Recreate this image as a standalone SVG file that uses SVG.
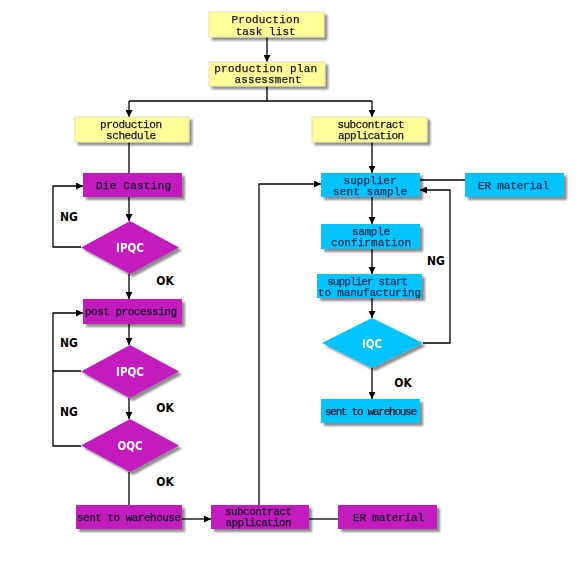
<svg xmlns="http://www.w3.org/2000/svg" width="580" height="570" viewBox="0 0 580 570">
<defs>
<filter id="sh" x="-10%" y="-20%" width="130%" height="160%">
<feGaussianBlur in="SourceAlpha" stdDeviation="1.2"/>
<feOffset dx="3" dy="3" result="b"/>
<feComponentTransfer><feFuncA type="linear" slope="0.45"/></feComponentTransfer>
<feMerge><feMergeNode/><feMergeNode in="SourceGraphic"/></feMerge>
</filter>
<marker id="ar" viewBox="0 0 10 10" refX="10" refY="5" markerWidth="7" markerHeight="7" markerUnits="userSpaceOnUse" orient="auto">
<path d="M0,0 L10,5 L0,10 z" fill="#000"/>
</marker>
</defs>
<style>
.y{fill:#FFFF99;stroke:#d8d8a0;stroke-width:0.8}
.m{fill:#C21BBF}
.c{fill:#00C3FF}
.t{font-family:"Liberation Mono",monospace;font-size:11px;fill:#121225;text-anchor:middle;stroke:#121225;stroke-width:0.25}
.tc{font-family:"Liberation Mono",monospace;font-size:11px;fill:#0a2a50;text-anchor:middle;stroke:#0a2a50;stroke-width:0.25}
.d{font-family:"DejaVu Sans Condensed","DejaVu Sans",sans-serif;font-weight:bold;font-size:11.5px;fill:#fff;text-anchor:middle}
.l{font-family:"DejaVu Sans Condensed","DejaVu Sans",sans-serif;font-weight:bold;font-size:12px;fill:#000;text-anchor:middle}
.e{fill:none;stroke:#000;stroke-width:1.3}
.ea{fill:none;stroke:#000;stroke-width:1.3;marker-end:url(#ar)}
</style>
<rect width="580" height="570" fill="#fff"/>

<g id="connectors">
<path class="ea" d="M267,37 V62"/>
<path class="e" d="M267,86 V101 M129,101 H372"/>
<path class="ea" d="M129,101 V117"/>
<path class="ea" d="M372,101 V117"/>
<path class="e" d="M129,142 V173"/>
<path class="ea" d="M129,197 V221"/>
<path class="ea" d="M81,247 H53 V186 H83"/>
<path class="ea" d="M129,274 V299"/>
<path class="ea" d="M129,324 V345"/>
<path class="ea" d="M81,371 H53 V313 H83"/>
<path class="e" d="M81,446 H53 V371"/>
<path class="ea" d="M129,398 V419"/>
<path class="e" d="M129,472 V505"/>
<path class="ea" d="M182,519 H211"/>
<path class="e" d="M309,519 H338"/>
<path class="ea" d="M259,505 V184 H321"/>
<path class="ea" d="M372,142 V173"/>
<path class="e" d="M465,180 H420"/>
<path class="ea" d="M372,197 V224"/>
<path class="ea" d="M372,249 V274"/>
<path class="ea" d="M372,298 V318"/>
<path class="ea" d="M423,343 H450 V190 H420"/>
<path class="ea" d="M372,367 V399"/>
</g>

<g id="production-task-list" filter="url(#sh)"><rect class="y" x="209" y="12" width="115" height="25"/><text class="t" x="265.5" y="23" textLength="68" lengthAdjust="spacing">Production</text><text class="t" x="265.7" y="34.5" textLength="60" lengthAdjust="spacing">task list</text></g>
<g id="production-plan-assessment" filter="url(#sh)"><rect class="y" x="209" y="62" width="116" height="24"/><text class="t" x="265.7" y="72" textLength="103" lengthAdjust="spacing">production plan</text><text class="t" x="268" y="83" textLength="67" lengthAdjust="spacing">assessment</text></g>
<g id="production-schedule" filter="url(#sh)"><rect class="y" x="75" y="117" width="114" height="25"/><text class="t" x="131" y="128" textLength="62" lengthAdjust="spacing">production</text><text class="t" x="131" y="139" textLength="50" lengthAdjust="spacing">schedule</text></g>
<g id="subcontract-application-top" filter="url(#sh)"><rect class="y" x="312" y="117" width="115" height="25"/><text class="t" x="371" y="128" textLength="67" lengthAdjust="spacing">subcontract</text><text class="t" x="371" y="139" textLength="66" lengthAdjust="spacing">application</text></g>

<g id="die-casting" filter="url(#sh)"><rect class="m" x="83" y="173" width="99" height="24"/><text class="t" x="133.5" y="189" textLength="75" lengthAdjust="spacing">Die Casting</text></g>
<g id="ipqc-1" filter="url(#sh)"><polygon class="m" points="130,221 179,247.5 130,274 81,247.5"/><text class="d" x="130" y="252">IPQC</text></g>
<g id="post-processing" filter="url(#sh)"><rect class="m" x="83" y="299" width="99" height="25"/><text class="t" x="131" y="315" textLength="92" lengthAdjust="spacing">post processing</text></g>
<g id="ipqc-2" filter="url(#sh)"><polygon class="m" points="130,345 179,371.5 130,398 81,371.5"/><text class="d" x="130" y="376">IPQC</text></g>
<g id="oqc" filter="url(#sh)"><polygon class="m" points="130,419 179,445.5 130,472 81,445.5"/><text class="d" x="130" y="450">OQC</text></g>
<g id="sent-to-warehouse-left" filter="url(#sh)"><rect class="m" x="76" y="505" width="106" height="24"/><text class="t" x="129" y="521" textLength="104" lengthAdjust="spacing">sent to warehouse</text></g>
<g id="subcontract-application-bottom" filter="url(#sh)"><rect class="m" x="211" y="505" width="98" height="24"/><text class="t" x="258.5" y="515" textLength="67" lengthAdjust="spacing">subcontract</text><text class="t" x="258.5" y="526" textLength="66" lengthAdjust="spacing">application</text></g>
<g id="er-material-bottom" filter="url(#sh)"><rect class="m" x="338" y="505" width="99" height="24"/><text class="t" x="388.5" y="521" textLength="71" lengthAdjust="spacing">ER material</text></g>

<g id="supplier-sent-sample" filter="url(#sh)"><rect class="c" x="321" y="173" width="99" height="24"/><text class="tc" x="370" y="183.5" textLength="53" lengthAdjust="spacing">supplier</text><text class="tc" x="370" y="194.5" textLength="74" lengthAdjust="spacing">sent sample</text></g>
<g id="er-material-top" filter="url(#sh)"><rect class="c" x="465" y="173" width="99" height="24"/><text class="tc" x="513.5" y="189" textLength="71" lengthAdjust="spacing">ER material</text></g>
<g id="sample-confirmation" filter="url(#sh)"><rect class="c" x="321" y="224" width="99" height="25"/><text class="tc" x="371" y="234.5" textLength="38" lengthAdjust="spacing">sample</text><text class="tc" x="371" y="245.5" textLength="80" lengthAdjust="spacing">confirmation</text></g>
<g id="supplier-start" filter="url(#sh)"><rect class="c" x="317" y="274" width="105" height="24"/><text class="tc" x="367.5" y="284.5" textLength="81" lengthAdjust="spacing">supplier start</text><text class="tc" x="369.5" y="295.5" textLength="103" lengthAdjust="spacing">to manufacturing</text></g>
<g id="iqc" filter="url(#sh)"><polygon class="c" points="372,318 423,343 372,368 322,343"/><text class="d" x="372" y="347.5">IQC</text></g>
<g id="sent-to-warehouse-right" filter="url(#sh)"><rect class="c" x="321" y="399" width="99" height="24"/><text class="t" x="371" y="415" textLength="92" lengthAdjust="spacing">sent to warehouse</text></g>

<g id="labels">
<text class="l" x="69" y="221">NG</text>
<text class="l" x="165" y="285">OK</text>
<text class="l" x="69" y="347">NG</text>
<text class="l" x="69" y="416">NG</text>
<text class="l" x="165" y="412">OK</text>
<text class="l" x="165" y="486">OK</text>
<text class="l" x="436" y="265">NG</text>
<text class="l" x="403" y="387">OK</text>
</g>
</svg>
